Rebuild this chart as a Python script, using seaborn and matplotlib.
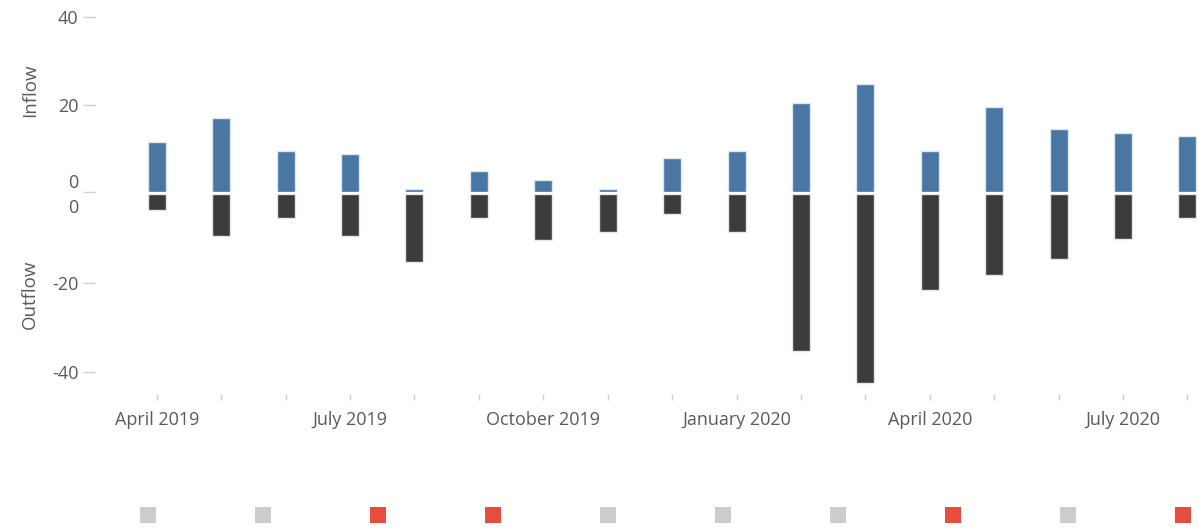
import pandas as pd
import matplotlib.pyplot as plt
import matplotlib.transforms as mtrans
import seaborn as sns

# monthly flows, April 2019 .. August 2020
months = ["Apr 2019", "May 2019", "Jun 2019", "Jul 2019", "Aug 2019", "Sep 2019",
          "Oct 2019", "Nov 2019", "Dec 2019", "Jan 2020", "Feb 2020", "Mar 2020",
          "Apr 2020", "May 2020", "Jun 2020", "Jul 2020", "Aug 2020"]
inflow = [11.4, 16.9, 9.4, 8.7, 0.7, 4.8, 2.7, 0.7, 7.8, 9.4,
          20.4, 24.7, 9.4, 19.5, 14.5, 13.6, 12.8]
outflow = [-3.6, -9.4, -5.3, -9.4, -15.3, -5.3, -10.3, -8.6, -4.4, -8.6,
           -35.3, -42.4, -21.6, -18.2, -14.5, -10.2, -5.3]

tick_labels = ["April 2019", "", "", "July 2019", "", "", "October 2019", "", "",
               "January 2020", "", "", "April 2020", "", "", "July 2020", ""]

# status markers in the strip below the chart
status = ["normal", "normal", "alert", "alert", "normal",
          "normal", "normal", "alert", "normal", "alert"]

BLUE = "#4a76a3"
DARK = "#3b3b3b"
TXT = "#5a5a5a"
TICK = "#cfcfcf"

sns.set_theme(style="white")
plt.rcParams["font.family"] = ["Open Sans", "DejaVu Sans"]

df = pd.DataFrame({"month": months, "Inflow": inflow, "Outflow": outflow})

fig = plt.figure(figsize=(11.99, 5.31), dpi=100)
W, H = 1199, 531
left, width = 95 / W, (W - 95) / W
ax_in = fig.add_axes([left, 1 - 192 / H, width, 175 / H])
ax_out = fig.add_axes([left, 1 - 394 / H, width, 200 / H])
ax_st = fig.add_axes([left, 1 - 530 / H, width, 30 / H])

sns.barplot(data=df, x="month", y="Inflow", color=BLUE, width=0.28,
            edgecolor="#dbe6f1", linewidth=1, saturation=1, ax=ax_in)
sns.barplot(data=df, x="month", y="Outflow", color=DARK, width=0.28,
            edgecolor="#e6e6e6", linewidth=1, saturation=1, ax=ax_out)

xlim = (-0.96, 16.18)
for ax in (ax_in, ax_out):
    ax.set_xlim(*xlim)
    sns.despine(ax=ax, left=True, bottom=True)
    ax.set_xlabel("")
    ax.set_ylabel("")
    ax.tick_params(axis="y", length=9, width=1, color=TICK, labelcolor=TXT,
                   labelsize=13, pad=3, left=True)

ax_in.set_ylim(0, 40)
ax_in.set_yticks([0, 20, 40])
ax_in.set_xticks([])
ax_out.set_ylim(-44.9, 0)
ax_out.set_yticks([-40, -20, 0])
ax_out.set_yticklabels(["-40", "-20", "0"])
ax_out.set_xticks(range(len(months)))
ax_out.set_xticklabels(tick_labels)
ax_out.tick_params(axis="x", length=4, width=1, color=TICK, labelcolor=TXT,
                   labelsize=13, pad=8, bottom=True)

# nudge the two zero labels apart
up = mtrans.ScaledTranslation(0, 8 / 72, fig.dpi_scale_trans)
down = mtrans.ScaledTranslation(0, -8.6 / 72, fig.dpi_scale_trans)
lab0 = ax_in.get_yticklabels()[0]
lab0.set_transform(lab0.get_transform() + up)
lab1 = ax_out.get_yticklabels()[-1]
lab1.set_transform(lab1.get_transform() + down)
ax_out.yaxis.get_major_ticks()[-1].tick1line.set_visible(False)

fig.text(30 / W, 1 - 90 / H, "Inflow", rotation=90, ha="center", va="center",
         color=TXT, fontsize=13.5)
fig.text(30 / W, 1 - 294 / H, "Outflow", rotation=90, ha="center", va="center",
         color=TXT, fontsize=13.5)

# status strip
st = pd.DataFrame({"pos": range(len(status)), "y": [0] * len(status), "status": status})
sns.scatterplot(data=st, x="pos", y="y", hue="status", marker="s", s=140,
                palette={"normal": "#cccccc", "alert": "#e74c3c"},
                linewidth=0, legend=False, ax=ax_st)
ax_st.set_xlim(-0.46, 9.14)
ax_st.set_ylim(-1, 1)
ax_st.axis("off")

plt.savefig("out.png", dpi=100)
plt.close()
